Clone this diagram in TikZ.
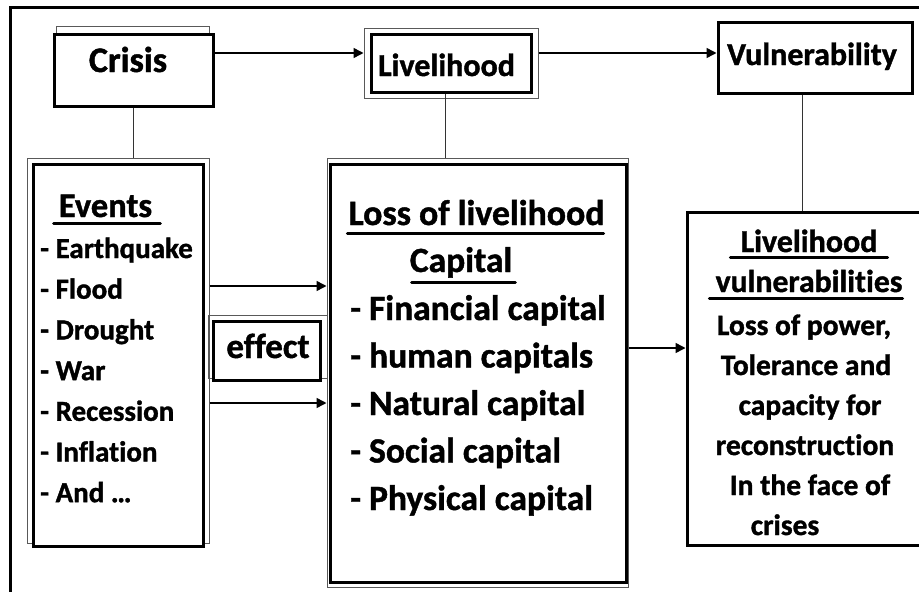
\documentclass[tikz,border=0pt]{standalone}
\usepackage{fontspec}
\setmainfont{Carlito}[Ligatures=NoCommon, BoldFeatures={FakeBold=1.2}]
\usetikzlibrary{arrows.meta}

\tikzset{
  frame/.style={draw=black!65, line width=1pt, rectangle, inner sep=0pt},
  box/.style={draw, line width=3pt, rectangle, inner sep=0pt, fill=white},
  head/.style={font=\bfseries\fontsize{#1}{#1}\selectfont, inner sep=0pt, anchor=base},
  uline/.style={line width=3pt, line cap=round},
  link/.style={draw, line width=1.5pt},
  stem/.style={draw=black!80, line width=1pt},
  arr/.style={link, -{Triangle[length=10pt,width=10pt]}}
}

\begin{document}
\begin{tikzpicture}[x=1pt, y=-1pt]
      \useasboundingbox (0,0) rectangle (919,592);
      \draw[line width=3pt] (10,600) -- (10,7) -- (930,7);
      \begin{scope}[every node/.style={frame}]
        \node[minimum width=153, minimum height=74] (crisisf) at (132.5,63) {};
        \node[minimum width=174, minimum height=70] (lvhf) at (451,63) {};
        \node[minimum width=182, minimum height=385] (evf) at (118,350.5) {};
        \node[minimum width=119, minimum height=63] (efff) at (267.5,346.5) {};
        \node[minimum width=301, minimum height=429] (cbf) at (477.5,372.5) {};
      \end{scope}
      \begin{scope}[every node/.style={box}]
        \node[minimum width=159, minimum height=72] (crisis) at (133.5,70) {};
        \node[minimum width=160, minimum height=58] (lvh) at (451,63) {};
        \node[minimum width=194, minimum height=71] (vul) at (815,57.5) {};
        \node[minimum width=170, minimum height=382] (ev) at (118,355) {};
        \node[minimum width=107, minimum height=59] (eff) at (266.5,350.5) {};
        \node[minimum width=296, minimum height=418] (cb) at (478,373) {};
        \node[minimum width=240, minimum height=333] (rb) at (807,378.5) {};
      \end{scope}
      \node[head=36] (crisist) at (128,72) {Crisis};
      \node[head=32] (lvht) at (446.5,76) {Livelihood};
      \node[head=32] (vult) at (812,65) {Vulnerability};
      \node[head=35] (efft) at (268,358) {effect};
      \node[head=34.5] (evt) at (105.5,217) {Events};
      \draw[uline] ([shift={(-5,6)}]evt.base west) -- ([shift={(8,6)}]evt.base east);
      \foreach \txt [count=\i] in {Earthquake, Flood, Drought, War, Recession, Inflation, {And \ldots}}
        \node[head=29, anchor=base west] (ev\i) at (40,{258+40.7*(\i-1)}) {- \txt};
      \node[head=35.8] (losst) at (476.5,225) {Loss of livelihood};
      \draw[uline] ([shift={(-1,8)}]losst.base west) -- ([shift={(-1,8)}]losst.base east);
      \node[head=35.5] (capt) at (461,272) {Capital};
      \draw[uline] ([shift={(2,10)}]capt.base west) -- ([shift={(3,10)}]capt.base east);
      \foreach \txt [count=\i] in {Financial capital, human capitals, Natural capital, Social capital, Physical capital}
        \node[head=35.5, anchor=base west] (cap\i) at (350,{320+47.5*(\i-1)}) {- \txt};
      \node[head=32] (rbt) at (809,252) {Livelihood};
      \draw[uline] ([shift={(-10,5)}]rbt.base west) -- ([shift={(10,5)}]rbt.base east);
      \node[head=31.7] (rbv) at (809,292) {vulnerabilities};
      \draw[uline] ([shift={(-6,6)}]rbv.base west) -- ([shift={(0,6)}]rbv.base east);
      \foreach \cx/\txt [count=\i] in {804/{Loss of power,}, 806/{Tolerance and}, 810/{capacity for}, 805/{reconstruction}, 810/{In the face of}, 785/{crises}}
        \node[head=29.5] (rbl\i) at (\cx,{335+40*(\i-1)}) {\txt};
      \coordinate (toprow) at (0,53);
      \coordinate (flowa) at (0,286);
      \coordinate (flowb) at (0,403);
      \coordinate (flowc) at (0,348);
      \draw[arr] (crisis.east |- toprow) -- (lvhf.west |- toprow);
      \draw[arr] (lvhf.east |- toprow) -- (vul.west |- toprow);
      \draw[stem] (crisis.south) -- (crisis.south |- evf.north);
      \draw[stem] (lvh.260) -- (lvh.260 |- cbf.north);
      \draw[stem] (vul.251) -- (vul.251 |- rb.north);
      \draw[arr] (evf.east |- flowa) -- (cbf.west |- flowa);
      \draw[arr] (evf.east |- flowb) -- (cbf.west |- flowb);
      \draw[arr] (cbf.east |- flowc) -- (rb.west |- flowc);
    \end{tikzpicture}
\end{document}
